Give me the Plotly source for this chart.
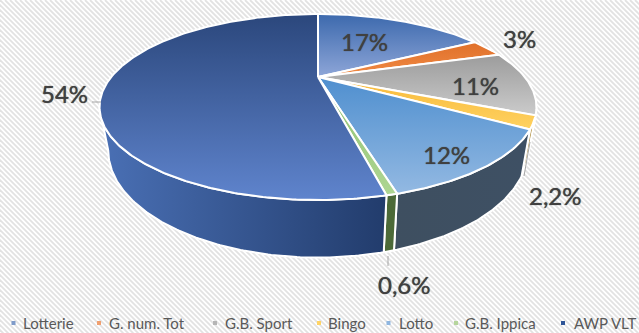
import math
import plotly.graph_objects as go

categories = ["Lotterie", "G. num. Tot", "G.B. Sport", "Bingo", "Lotto", "G.B. Ippica", "AWP VLT"]
values = [17.0, 3.3, 11.3, 2.2, 12.0, 0.6, 53.7]
labels = ["17%", "3%", "11%", "2,2%", "12%", "0,6%", "54%"]
label_x = [364, 519, 475, 555, 446, 404, 64]
label_y = [41, 38, 85, 195, 154, 284, 93]
top_colors = [("#3c69ad", "#8ea6d8"), ("#e0702a", "#f08a44"), ("#9c9c9c", "#cbcbcb"), ("#f7b93a", "#ffd261"),
              ("#4f8fcf", "#93b9e2"), ("#8fc06f", "#aed693"), ("#2b477c", "#5f84cd")]
side_colors = [("#2c5082", "#2c5082"), ("#a85520", "#a85520"), ("#6f6f6f", "#6f6f6f"), ("#a5812b", "#a5812b"),
               ("#3e4f60", "#3e5064"), ("#4c6a38", "#4c6a38"), ("#4a70b5", "#223c6c")]
legend_colors = ["#7f9bc9", "#f0a070", "#b5b5b5", "#ffd466", "#8fb6e0", "#b5d59c", "#2f5597"]
legend_marker_x = [13.5, 99, 215, 319, 388.5, 456, 563]
legend_text_x = [20.5, 106.6, 222.6, 326, 397, 463, 572]

# projection of the pie plane onto the picture
APEX_X, APEX_Y = 318, 77
PERSP = 0.3226
TILT = -58.48
WIDE = 206.8
DEPTH = 39
SHRINK = 0.96


def top_point(theta):
    u, v = math.sin(theta), math.cos(theta)
    d = 1 + PERSP * v
    return APEX_X + WIDE * u / d, (APEX_Y + TILT * v) / d


def bottom_point(theta):
    x, y = top_point(theta)
    d = 1 + PERSP * math.cos(theta)
    return APEX_X + SHRINK * (x - APEX_X), y + DEPTH / d


vis_start = math.acos(-PERSP)
vis_end = 2 * math.pi - vis_start

fig = go.Figure()

# hatched page background
hx, hy = [], []
for k in range(-340, 640, 5):
    hx += [k, k + 340, None]
    hy += [0, 340, None]
fig.add_trace(go.Scatter(x=hx, y=hy, mode="lines", line=dict(color="#e2e2e2", width=1.8),
                         hoverinfo="skip", showlegend=False))

total = sum(values)
acc = 0
spans = []
for v in values:
    spans.append((acc / total * 2 * math.pi, (acc + v) / total * 2 * math.pi))
    acc += v


def arc(a, b):
    n = max(2, int(abs(b - a) * 90))
    return [a + (b - a) * i / n for i in range(n + 1)]


# front wall
for i, (a, b) in enumerate(spans):
    a2, b2 = max(a, vis_start), min(b, vis_end)
    if b2 <= a2:
        continue
    ts = arc(a2, b2)
    pts = [top_point(t) for t in ts] + [bottom_point(t) for t in reversed(ts)]
    xs = [p[0] for p in pts] + [pts[0][0]]
    ys = [p[1] for p in pts] + [pts[0][1]]
    fig.add_trace(go.Scatter(
        x=xs, y=ys, mode="lines", fill="toself", line=dict(color="white", width=2),
        fillgradient=dict(type="horizontal", colorscale=[[0, side_colors[i][0]], [1, side_colors[i][1]]]),
        hoverinfo="skip", showlegend=False))

# top faces
for i, (a, b) in enumerate(spans):
    pts = [(APEX_X, APEX_Y)] + [top_point(t) for t in arc(a, b)] + [(APEX_X, APEX_Y)]
    fig.add_trace(go.Scatter(
        x=[p[0] for p in pts], y=[p[1] for p in pts], mode="lines", fill="toself",
        line=dict(color="white", width=2),
        fillgradient=dict(type="vertical", colorscale=[[0, top_colors[i][1]], [1, top_colors[i][0]]]),
        name=categories[i], hoverinfo="name", showlegend=False))

# leader lines
for lx, ly in [((92, 101), (102, 102)), ((388, 388), (256, 266)), ((530, 524), (142, 176))]:
    fig.add_trace(go.Scatter(x=list(lx), y=list(ly), mode="lines", line=dict(color="#a6a6a6", width=1),
                             hoverinfo="skip", showlegend=False))

# legend
fig.add_trace(go.Scatter(x=legend_marker_x, y=[323] * 7, mode="markers",
                         marker=dict(size=4, color=legend_colors, symbol="square"),
                         hoverinfo="skip", showlegend=False))
for c, x in zip(categories, legend_text_x):
    fig.add_annotation(x=x, y=323, text=c, showarrow=False, xanchor="left", yanchor="middle",
                       font=dict(family="Lato", size=15, color="#595959"))

for t, x, y in zip(labels, label_x, label_y):
    fig.add_annotation(x=x, y=y, text=t, showarrow=False, xanchor="center", yanchor="middle",
                       font=dict(family="Lato", size=24, color="#404040", shadow="0 0 1px #404040"))

fig.update_layout(
    width=639, height=333, margin=dict(l=0, r=0, t=0, b=0),
    paper_bgcolor="white", plot_bgcolor="rgba(0,0,0,0)",
    xaxis=dict(range=[0, 639], visible=False, fixedrange=True),
    yaxis=dict(range=[333, 0], visible=False, fixedrange=True),
    showlegend=False,
)
fig.write_html("out.html", config=dict(displayModeBar=False), post_script="document.body.style.margin='0';")
